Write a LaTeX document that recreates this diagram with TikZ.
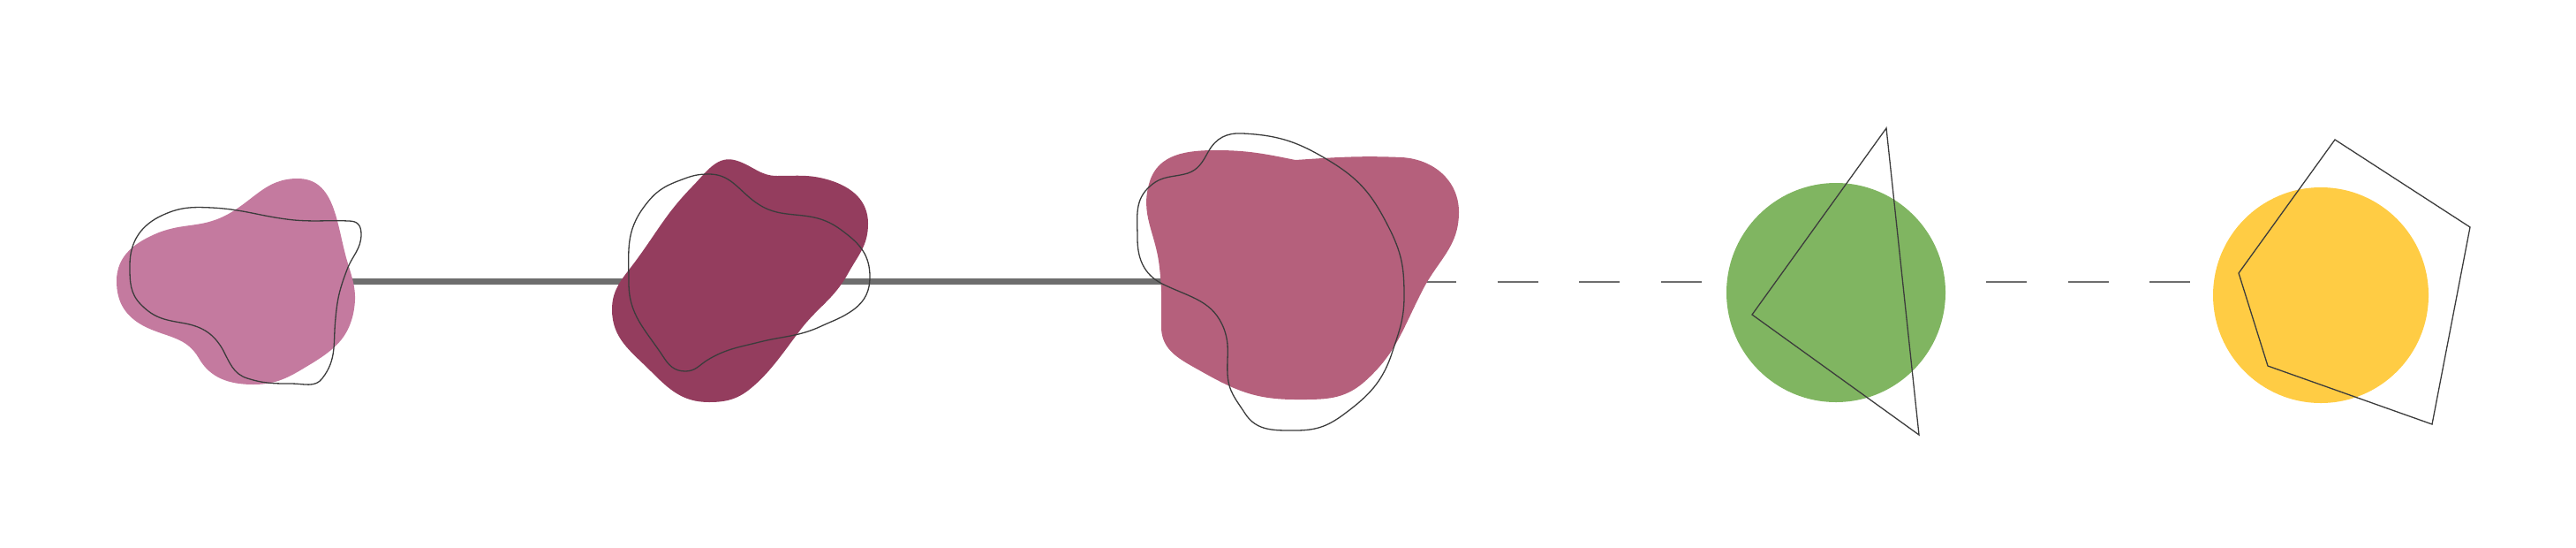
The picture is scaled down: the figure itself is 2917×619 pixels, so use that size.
\documentclass[tikz,border=0pt]{standalone}
\definecolor{blobA}{HTML}{C47A9F}
\definecolor{blobB}{HTML}{943D5E}
\definecolor{blobC}{HTML}{B5607C}
\definecolor{greenC}{HTML}{80B561}
\definecolor{yellowC}{HTML}{FFCC44}
\definecolor{lineC}{HTML}{6E6E6E}
\definecolor{inkC}{HTML}{3C3C3C}
\tikzset{
  thickline/.style={draw=lineC, line width=6.5pt},
  dashline/.style={draw=lineC, line width=2.2pt, dash pattern=on 46pt off 46.5pt},
  outl/.style={draw=inkC, line width=1.3pt, line join=round},
}
\begin{document}
\begin{tikzpicture}[x=1pt,y=-1pt]
\useasboundingbox (0,0) rectangle (2917,619);
% connector endpoints
\coordinate (t1) at (300,318.5);
\coordinate (t2) at (1450,318.5);
\coordinate (d1a) at (1603,319);
\coordinate (d1b) at (1927,319);
\coordinate (d2a) at (2249,319);
\coordinate (d2b) at (2480,319);
\draw[thickline] (t1) -- (t2);
\draw[dashline] (d1a) -- (d1b);
\draw[dashline] (d2a) -- (d2b);
% blob 1 fill
\fill[blobA] (337,202)
 .. controls +(43,0) and +(-12,-41) .. (393,295)
 .. controls +(7,23) and +(5,-24) .. (400,355)
 .. controls +(-6,27) and +(24,-15) .. (355,410)
 .. controls +(-25,15) and +(29,0) .. (287,435)
 .. controls +(-27,0) and +(13,23) .. (225,405)
 .. controls +(-14,-24) and +(25,12) .. (165,370)
 .. controls +(-22,-11) and +(0,25) .. (132,318)
 .. controls +(0,-29) and +(-27,11) .. (180,263)
 .. controls +(29,-11) and +(-28,14) .. (255,244)
 .. controls +(33,-17) and +(-37,0) .. (337,202) -- cycle;
% blob 1 outline
\draw[outl] (147,300)
 .. controls +(0,-27) and +(-25,11) .. (185,243)
 .. controls +(20,-9) and +(-22,-1) .. (240,235)
 .. controls +(38,2) and +(-38,-4) .. (333,249)
 .. controls +(25,2) and +(-25,-1) .. (395,250)
 .. controls +(10,0) and +(0,-10) .. (409,265)
 .. controls +(0,17) and +(6,-16) .. (393,305)
 .. controls +(-8,21) and +(2,-23) .. (380,360)
 .. controls +(-3,28) and +(17,-22) .. (365,428)
 .. controls +(-8,11) and +(14,0) .. (330,434)
 .. controls +(-20,0) and +(19,6) .. (280,428)
 .. controls +(-16,-5) and +(8,15) .. (252,395)
 .. controls +(-10,-17) and +(20,4) .. (210,366)
 .. controls +(-22,-4) and +(16,16) .. (160,345)
 .. controls +(-13,-13) and +(0,19) .. (147,300) -- cycle;
% blob 2 fill
\fill[blobB] (835,182)
 .. controls +(18,6) and +(-19,0) .. (880,199)
 .. controls +(24,0) and +(-23,-7) .. (940,204)
 .. controls +(25,8) and +(0,-26) .. (983,253)
 .. controls +(0,25) and +(12,-22) .. (960,310)
 .. controls +(-17,30) and +(20,-27) .. (905,375)
 .. controls +(-16,21) and +(20,-17) .. (853,437)
 .. controls +(-16,14) and +(21,0) .. (803,455)
 .. controls +(-30,0) and +(21,21) .. (737,420)
 .. controls +(-23,-23) and +(0,33) .. (693,350)
 .. controls +(0,-24) and +(-14,19) .. (720,295)
 .. controls +(25,-34) and +(-29,30) .. (783,212)
 .. controls +(17,-17) and +(-23,-8) .. (835,182) -- cycle;
% blob 2 outline
\draw[outl] (803,197)
 .. controls +(23,0) and +(-18,-14) .. (853,227)
 .. controls +(16,12) and +(-20,-2) .. (900,243)
 .. controls +(23,2) and +(-18,-14) .. (955,262)
 .. controls +(19,14) and +(0,-24) .. (985,313)
 .. controls +(0,16) and +(13,-10) .. (967,350)
 .. controls +(-14,10) and +(15,-7) .. (930,369)
 .. controls +(-26,12) and +(28,-7) .. (860,387)
 .. controls +(-24,6) and +(21,-13) .. (800,408)
 .. controls +(-9,6) and +(11,0) .. (776,420)
 .. controls +(-13,0) and +(7,11) .. (750,402)
 .. controls +(-20,-30) and +(0,36) .. (712,320)
 .. controls +(0,-36) and +(-22,29) .. (730,233)
 .. controls +(12,-16) and +(-19,7) .. (770,204)
 .. controls +(13,-5) and +(-14,0) .. (803,197) -- cycle;
% blob 3 fill
\fill[blobC] (1302,205)
 .. controls +(10,-31) and +(-33,0) .. (1377,170)
 .. controls +(36,0) and +(-35,-7) .. (1467,181)
 .. controls +(45,-3) and +(-48,-2) .. (1587,178)
 .. controls +(36,2) and +(0,-36) .. (1652,240)
 .. controls +(0,40) and +(18,-36) .. (1610,330)
 .. controls +(-22,43) and +(36,-32) .. (1545,432)
 .. controls +(-24,21) and +(32,0) .. (1467,452)
 .. controls +(-45,0) and +(39,22) .. (1360,420)
 .. controls +(-23,-13) and +(0,27) .. (1315,370)
 .. controls +(0,-27) and +(3,27) .. (1313,303)
 .. controls +(-4,-40) and +(-12,38) .. (1302,205) -- cycle;
% blob 3 outline
\draw[outl] (1407,151)
 .. controls +(42,2) and +(-36,-22) .. (1507,183)
 .. controls +(36,22) and +(-19,-38) .. (1575,262)
 .. controls +(13,27) and +(0,-30) .. (1590,335)
 .. controls +(0,25) and +(8,-24) .. (1577,397)
 .. controls +(-11,35) and +(30,-22) .. (1520,470)
 .. controls +(-18,13) and +(22,0) .. (1467,487)
 .. controls +(-24,0) and +(13,20) .. (1410,468)
 .. controls +(-11,-17) and +(1,20) .. (1390,423)
 .. controls +(-1,-20) and +(7,19) .. (1386,372)
 .. controls +(-12,-31) and +(30,14) .. (1320,323)
 .. controls +(-23,-10) and +(0,25) .. (1288,270)
 .. controls +(0,-25) and +(-19,16) .. (1303,210)
 .. controls +(14,-12) and +(-17,5) .. (1345,196)
 .. controls +(12,-4) and +(-6,11) .. (1368,172)
 .. controls +(9,-16) and +(-18,-1) .. (1407,151) -- cycle;
% green circle + triangle
\coordinate (gc) at (2079,331);
\fill[greenC] (gc) circle[radius=124pt];
\coordinate (ta) at (2136,145);
\coordinate (tb) at (2173,492);
\coordinate (tc) at (1984,356);
\draw[outl, line join=miter] (ta) -- (tb) -- (tc) -- cycle;
% yellow circle + pentagon
\coordinate (yc) at (2628,334);
\fill[yellowC] (yc) circle[radius=122pt];
\coordinate (pa) at (2644,158);
\coordinate (pb) at (2797,257);
\coordinate (pc) at (2754,480);
\coordinate (pd) at (2568,414);
\coordinate (pe) at (2535,309);
\draw[outl, line join=miter] (pa) -- (pb) -- (pc) -- (pd) -- (pe) -- cycle;
\end{tikzpicture}
\end{document}
